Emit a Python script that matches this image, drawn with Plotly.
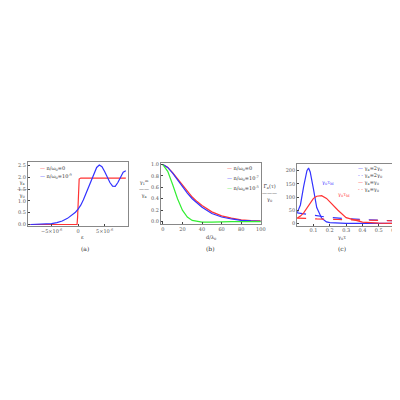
import plotly.graph_objects as go

# panel (a)
a_x = [-9e-6, -7e-6, -5e-6, -4e-6, -3e-6, -2e-6, -1e-6, -0.5e-6, 0, 0.5e-6, 1e-6, 1.5e-6, 2e-6,
       2.5e-6, 3e-6, 3.5e-6, 4e-6, 4.5e-6, 5e-6, 5.5e-6, 6e-6, 6.5e-6, 7e-6, 7.5e-6, 8e-6, 8.5e-6, 9e-6]
a_blue = [0.0, 0.01, 0.04, 0.08, 0.15, 0.26, 0.42, 0.52, 0.65, 0.82, 1.05, 1.32, 1.6,
          1.9, 2.2, 2.42, 2.52, 2.45, 2.25, 2.0, 1.78, 1.63, 1.62, 1.78, 2.02, 2.22, 2.28]
a_red_x = [-9e-6, -2e-7, -1e-7, 0, 1e-7, 2e-7, 5e-7, 9e-6]
a_red = [0.0, 0.0, 0.3, 1.0, 1.7, 1.93, 1.97, 1.97]

# panel (b)
b_x = [0, 5, 10, 15, 20, 25, 30, 35, 40, 50, 60, 70, 80, 90, 100]
b_red = [1.0, 0.95, 0.86, 0.75, 0.64, 0.53, 0.43, 0.35, 0.28, 0.17, 0.1, 0.06, 0.03, 0.015, 0.01]
b_blue = [1.0, 0.95, 0.85, 0.73, 0.61, 0.5, 0.4, 0.32, 0.25, 0.14, 0.08, 0.045, 0.02, 0.01, 0.005]
b_green = [1.0, 0.88, 0.65, 0.4, 0.2, 0.08, 0.02, 0.0, -0.01, -0.01, 0.0, 0.0, 0.0, 0.0, 0.0]

# panel (c)
c_x = [0, 0.02, 0.04, 0.06, 0.07, 0.08, 0.1, 0.12, 0.15, 0.18, 0.2, 0.25, 0.3, 0.4, 0.5, 0.6]
c_blue = [40, 70, 140, 200, 210, 195, 130, 60, 20, 6, 3, 1, 0, 0, 0, 0]
c_red = [20, 28, 40, 60, 70, 80, 95, 103, 105, 95, 82, 50, 22, 5, 1, 0]
c_blue_d = [40, 38, 36, 34, 33, 32, 30, 28, 26, 24, 23, 20, 18, 15, 12, 10]
c_red_d = [20, 20, 19, 19, 19, 18, 18, 17, 17, 16, 16, 15, 14, 12, 11, 10]

RED = "#ff3333"
BLUE = "#3333ff"
GREEN = "#33ee33"

fig = go.Figure()
fig.add_trace(go.Scatter(x=a_red_x, y=a_red, mode="lines", line=dict(color=RED, width=1.2), xaxis="x", yaxis="y"))
fig.add_trace(go.Scatter(x=a_x, y=a_blue, mode="lines", line=dict(color=BLUE, width=1.2), xaxis="x", yaxis="y"))
fig.add_trace(go.Scatter(x=b_x, y=b_red, mode="lines", line=dict(color=RED, width=1.2), xaxis="x2", yaxis="y2"))
fig.add_trace(go.Scatter(x=b_x, y=b_blue, mode="lines", line=dict(color=BLUE, width=1.2), xaxis="x2", yaxis="y2"))
fig.add_trace(go.Scatter(x=b_x, y=b_green, mode="lines", line=dict(color=GREEN, width=1.2), xaxis="x2", yaxis="y2"))
fig.add_trace(go.Scatter(x=c_x, y=c_blue, mode="lines", line=dict(color=BLUE, width=1.2), xaxis="x3", yaxis="y3"))
fig.add_trace(go.Scatter(x=c_x, y=c_blue_d, mode="lines", line=dict(color=BLUE, width=1.2, dash="dash"), xaxis="x3", yaxis="y3"))
fig.add_trace(go.Scatter(x=c_x, y=c_red, mode="lines", line=dict(color=RED, width=1.2), xaxis="x3", yaxis="y3"))
fig.add_trace(go.Scatter(x=c_x, y=c_red_d, mode="lines", line=dict(color=RED, width=1.2, dash="dash"), xaxis="x3", yaxis="y3"))

ax = dict(showline=True, mirror=True, linecolor="#888", linewidth=0.8, showgrid=False, zeroline=False,
          ticks="inside", ticklen=2, tickfont=dict(size=5, family="DejaVu Serif", color="#555"))
yb, yt = 0.455, 0.615
fig.update_layout(
    width=400, height=400, margin=dict(l=0, r=0, t=0, b=0), showlegend=False,
    plot_bgcolor="white", paper_bgcolor="white",
    font=dict(family="DejaVu Serif", size=5, color="#333"),
    xaxis=dict(ax, domain=[0.05, 0.305], range=[-9.5e-6, 9.5e-6], tickvals=[-5e-6, 0, 5e-6],
               ticktext=["−5×10<sup>-6</sup>", "0", "5×10<sup>-6</sup>"]),
    yaxis=dict(ax, domain=[yb, 0.617], range=[-0.08, 2.65], tickvals=[0, 0.5, 1, 1.5, 2, 2.5],
               ticktext=["0.0", "0.5", "1.0", "1.5", "2.0", "2.5"]),
    xaxis2=dict(ax, domain=[0.387, 0.64], range=[-2, 100], tickvals=[0, 20, 40, 60, 80, 100], anchor="y2"),
    yaxis2=dict(ax, domain=[0.46, yt], range=[-0.05, 1.03], tickvals=[0, 0.2, 0.4, 0.6, 0.8, 1.0],
                ticktext=["0.0", "0.2", "0.4", "0.6", "0.8", "1.0"], anchor="x2"),
    xaxis3=dict(ax, domain=[0.732, 0.98], range=[0, 0.6], tickvals=[0.1, 0.2, 0.3, 0.4, 0.5, 0.6], anchor="y3"),
    yaxis3=dict(ax, domain=[0.457, 0.612], range=[-8, 225], tickvals=[0, 50, 100, 150, 200], anchor="x3"),
)

ann = [
    dict(x=0.18, y=0.428, text="ε"), dict(x=0.18, y=0.4, text="(a)", font=dict(size=6)),
    dict(x=0.513, y=0.428, text="d/λ<sub>0</sub>"), dict(x=0.513, y=0.4, text="(b)", font=dict(size=6)),
    dict(x=0.86, y=0.428, text="γ<sub>0</sub>τ"), dict(x=0.86, y=0.4, text="(c)", font=dict(size=6)),
    dict(x=0.018, y=0.55, text="γ<sub>a</sub><br>——<br>γ<sub>0</sub>"),
    dict(x=0.345, y=0.55, text="γ<sub>1</sub><sup>m</sup><br>——<br>γ<sub>a</sub>"),
    dict(x=0.685, y=0.54, text="Γ<sub>a</sub>(τ)<br>———<br>γ<sub>0</sub>"),
    dict(x=0.075, y=0.6, text="<span style='color:#ff3333'>—</span> n/ω<sub>0</sub>=0", xanchor="left"),
    dict(x=0.075, y=0.58, text="<span style='color:#3333ff'>—</span> n/ω<sub>0</sub>=10<sup>-9</sup>", xanchor="left"),
    dict(x=0.55, y=0.6, text="<span style='color:#ff3333'>—</span> n/ω<sub>0</sub>=0", xanchor="left"),
    dict(x=0.55, y=0.575, text="<span style='color:#3333ff'>—</span> n/ω<sub>0</sub>=10<sup>-7</sup>", xanchor="left"),
    dict(x=0.55, y=0.55, text="<span style='color:#33ee33'>—</span> n/ω<sub>0</sub>=10<sup>-5</sup>", xanchor="left"),
    dict(x=0.88, y=0.6, text="<span style='color:#3333ff'>—</span> γ<sub>a</sub>=2γ<sub>0</sub>", xanchor="left"),
    dict(x=0.88, y=0.583, text="<span style='color:#3333ff'>- -</span> γ<sub>a</sub>=2γ<sub>0</sub>", xanchor="left"),
    dict(x=0.88, y=0.566, text="<span style='color:#ff3333'>—</span> γ<sub>a</sub>=γ<sub>0</sub>", xanchor="left"),
    dict(x=0.88, y=0.549, text="<span style='color:#ff3333'>- -</span> γ<sub>a</sub>=γ<sub>0</sub>", xanchor="left"),
    dict(x=0.83, y=0.565, text="<span style='color:#3333ff'>γ<sub>0</sub>τ<sub>M</sub></span>"),
    dict(x=0.87, y=0.535, text="<span style='color:#ff3333'>γ<sub>0</sub>τ<sub>M</sub></span>"),
]
for a in ann:
    a.setdefault("font", dict(size=5))
    fig.add_annotation(xref="paper", yref="paper", showarrow=False, **a)

fig.write_html("out.html")
